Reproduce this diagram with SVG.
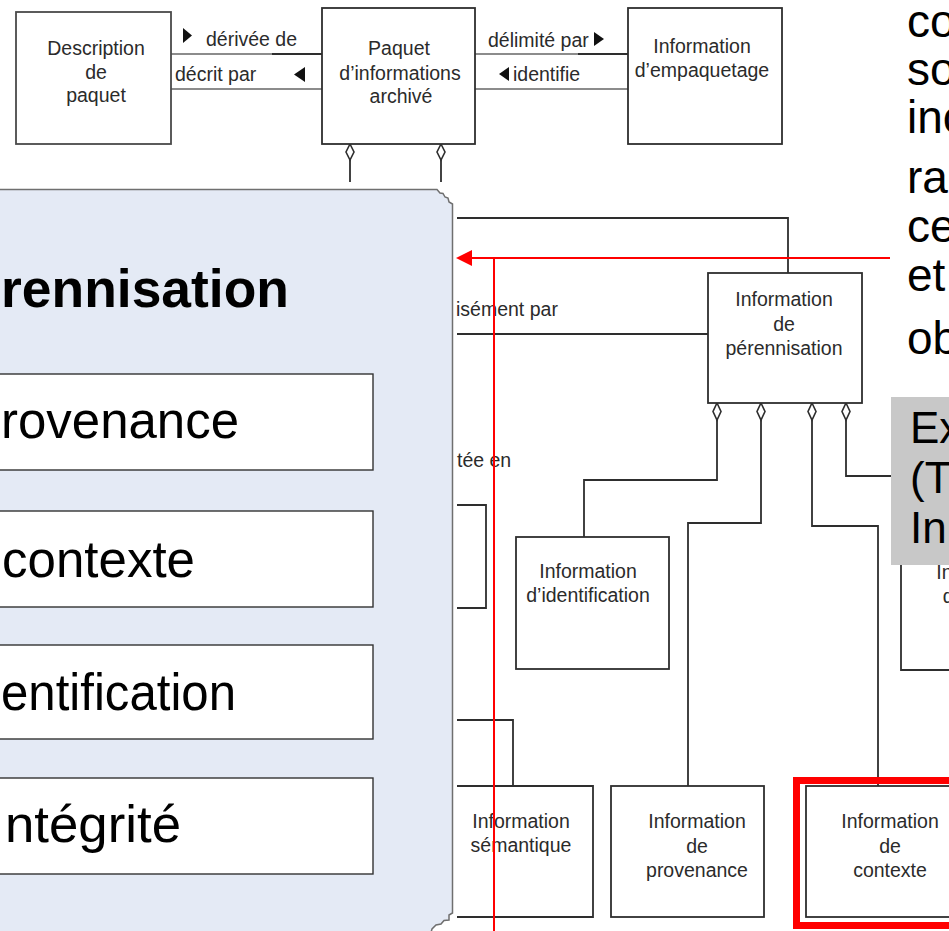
<svg xmlns="http://www.w3.org/2000/svg" width="949" height="931" viewBox="0 0 949 931">
  <defs>
    <style>
      .box { fill: #ffffff; stroke: #2e2e2e; stroke-width: 1.8; }
      .wire { fill: none; stroke: #2e2e2e; stroke-width: 1.8; }
      .rel { fill: none; stroke: #8c8c8c; stroke-width: 2; }
      .dia { fill: #ffffff; stroke: #2e2e2e; stroke-width: 1.6; }
      .lbl { font-family: "Liberation Sans", Arial, sans-serif; font-size: 19.5px; fill: #2b2b2b; }
      .mid { text-anchor: middle; }
      .tri { fill: #111111; }
      .big { font-family: "Liberation Sans", Arial, sans-serif; font-size: 52px; fill: #000000; }
      .side { font-family: "Liberation Sans", Arial, sans-serif; font-size: 46px; fill: #000000; }
      .note { font-family: "Liberation Sans", Arial, sans-serif; font-size: 44px; fill: #000000; }
      .hot { fill: none; stroke: #ff0000; stroke-width: 2; }
    </style>
  </defs>

  <rect width="949" height="931" fill="#ffffff"/>

  <!-- connectors of the package model -->
  <g id="connectors">
    <!-- Description de paquet <-> Paquet -->
    <line class="rel" x1="171" y1="54" x2="322" y2="54"/>
    <line class="wire" x1="272" y1="54" x2="322" y2="54"/>
    <line class="rel" x1="171" y1="89" x2="322" y2="89"/>
    <!-- Paquet <-> Information d'empaquetage -->
    <line class="rel" x1="475" y1="54" x2="628" y2="54"/>
    <line class="wire" x1="578" y1="54" x2="628" y2="54"/>
    <line class="rel" x1="475" y1="89" x2="628" y2="89"/>
    <!-- aggregation below Paquet -->
    <line class="wire" x1="350" y1="160" x2="350" y2="182"/>
    <line class="wire" x1="441" y1="160" x2="441" y2="182"/>
    <path class="dia" d="M350 144 L354 152 L350 160 L346 152 Z"/>
    <path class="dia" d="M441 144 L445 152 L441 160 L437 152 Z"/>
    <!-- Information de pérennisation links to the left -->
    <polyline class="wire" points="788,273 788,218 457,218"/>
    <line class="wire" x1="708" y1="334" x2="457" y2="334"/>
    <!-- aggregation below Information de pérennisation -->
    <polyline class="wire" points="717,420 717,480 584,480 584,537"/>
    <polyline class="wire" points="761,420 761,523 688,523 688,786"/>
    <polyline class="wire" points="812,420 812,526 878,526 878,786"/>
    <polyline class="wire" points="846,420 846,476 891,476"/>
    <path class="dia" d="M717 403 L721 411.5 L717 420 L713 411.5 Z"/>
    <path class="dia" d="M761 403 L765 411.5 L761 420 L757 411.5 Z"/>
    <path class="dia" d="M812 403 L816 411.5 L812 420 L808 411.5 Z"/>
    <path class="dia" d="M846 403 L850 411.5 L846 420 L842 411.5 Z"/>
    <!-- link into Information sémantique -->
    <polyline class="wire" points="457,720 513,720 513,786"/>
    <!-- relation labels -->
    <path class="tri" d="M183 28 L192 35.5 L183 43 Z"/>
    <text class="lbl" x="206" y="46">dérivée de</text>
    <text class="lbl" x="175" y="81">décrit par</text>
    <path class="tri" d="M305 67 L294 74.5 L305 82 Z"/>
    <text class="lbl" x="488" y="47">délimité par</text>
    <path class="tri" d="M594 32 L604 39 L594 46 Z"/>
    <path class="tri" d="M509 67 L499 74 L509 81 Z"/>
    <text class="lbl" x="513" y="81">identifie</text>
    <text class="lbl" x="456" y="316">isément par</text>
    <text class="lbl" x="457" y="467">tée en</text>
  </g>

  <g id="description-paquet">
    <rect x="16" y="12" width="155" height="132" fill="#ffffff" stroke="#4a4a4a" stroke-width="1.8"/>
    <text class="lbl mid" x="96" y="55">Description</text>
    <text class="lbl mid" x="96" y="79">de</text>
    <text class="lbl mid" x="96" y="102">paquet</text>
  </g>

  <g id="paquet-archive">
    <rect class="box" x="322" y="8" width="153" height="136"/>
    <text class="lbl mid" x="399" y="55">Paquet</text>
    <text class="lbl mid" x="400" y="80">d’informations</text>
    <text class="lbl mid" x="401" y="103">archivé</text>
  </g>

  <g id="information-empaquetage">
    <rect class="box" x="628" y="8" width="154" height="136"/>
    <text class="lbl mid" x="702" y="53">Information</text>
    <text class="lbl mid" x="702" y="77">d’empaquetage</text>
  </g>

  <g id="information-perennisation">
    <rect class="box" x="708" y="273" width="154" height="130"/>
    <text class="lbl mid" x="784" y="306">Information</text>
    <text class="lbl mid" x="784" y="331">de</text>
    <text class="lbl mid" x="784" y="355">pérennisation</text>
  </g>

  <g id="information-representation">
    <polyline class="wire" points="457,505 486,505 486,608 457,608"/>
  </g>

  <g id="information-identification">
    <rect class="box" x="516" y="537" width="153" height="132"/>
    <text class="lbl mid" x="588" y="578">Information</text>
    <text class="lbl mid" x="588" y="602">d’identification</text>
  </g>

  <g id="information-integrite">
    <path class="wire" d="M960 537 H901 V670 H960"/>
    <text class="lbl mid" x="985" y="579">Information</text>
    <text class="lbl mid" x="985" y="603">d’intégrité</text>
  </g>

  <g id="information-semantique">
    <path class="wire" d="M457 786 H593 V917 H457"/>
    <text class="lbl mid" x="521" y="828">Information</text>
    <text class="lbl mid" x="521" y="852">sémantique</text>
  </g>

  <g id="information-provenance">
    <rect class="box" x="611" y="786" width="153" height="131"/>
    <text class="lbl mid" x="697" y="828">Information</text>
    <text class="lbl mid" x="697" y="853">de</text>
    <text class="lbl mid" x="697" y="877">provenance</text>
  </g>

  <g id="information-contexte">
    <rect class="box" x="806" y="786" width="200" height="131"/>
    <text class="lbl mid" x="890" y="828">Information</text>
    <text class="lbl mid" x="890" y="853">de</text>
    <text class="lbl mid" x="890" y="877">contexte</text>
    <rect x="796.5" y="780.5" width="220" height="145" fill="none" stroke="#ff0000" stroke-width="7"/>
  </g>

  <!-- slide panel listing the four categories -->
  <g id="panel">
    <path d="M-5 189.5 H437 L440 193 L443 193.5 L445 197 L448 198 L449 202 L452.5 204 V913 L449 915 L449 920 L444 920.5 L441 924 L436 925 L432 929 L430 936 H-5 Z" fill="#e4eaf5" stroke="#6f6f6f" stroke-width="1.5"/>
    <text x="1" y="307" textLength="288" lengthAdjust="spacingAndGlyphs" font-family="Liberation Sans, Arial, sans-serif" font-size="54" font-weight="bold" fill="#000">rennisation</text>
    <g id="item-provenance">
      <rect x="-5" y="374" width="378" height="96" fill="#ffffff" stroke="#333" stroke-width="1.4"/>
      <text class="big" x="1" y="438" textLength="238" lengthAdjust="spacingAndGlyphs">rovenance</text>
    </g>
    <g id="item-contexte">
      <rect x="-5" y="511" width="378" height="96" fill="#ffffff" stroke="#333" stroke-width="1.4"/>
      <text class="big" x="2" y="577" textLength="193" lengthAdjust="spacingAndGlyphs">contexte</text>
    </g>
    <g id="item-identification">
      <rect x="-5" y="645" width="378" height="94" fill="#ffffff" stroke="#333" stroke-width="1.4"/>
      <text class="big" x="1" y="710" textLength="235" lengthAdjust="spacingAndGlyphs">entification</text>
    </g>
    <g id="item-integrite">
      <rect x="-5" y="778" width="378" height="96" fill="#ffffff" stroke="#333" stroke-width="1.4"/>
      <text class="big" x="5" y="842" textLength="176" lengthAdjust="spacingAndGlyphs">ntégrité</text>
    </g>
  </g>

  <!-- red pointer -->
  <g id="pointer">
    <polyline class="hot" points="890,258 470,258"/>
    <line class="hot" x1="494" y1="258" x2="494" y2="931"/>
    <path d="M456 258 L472 250 L472 266 Z" fill="#ff0000"/>
  </g>

  <!-- side text column -->
  <g id="side-text">
    <text class="side" x="907" y="37">co</text>
    <text class="side" x="907" y="85">so</text>
    <text class="side" x="907" y="133">inc</text>
    <text class="side" x="907" y="193">ra</text>
    <text class="side" x="907" y="242">ce</text>
    <text class="side" x="907" y="291">et</text>
    <text class="side" x="907" y="354">ob</text>
  </g>

  <g id="example-note">
    <rect x="891" y="397" width="70" height="168" fill="#c8c8c8"/>
    <text class="note" x="910" y="443">Ex</text>
    <text class="note" x="910" y="493">(T</text>
    <text class="note" x="910" y="543">In</text>
  </g>
</svg>
